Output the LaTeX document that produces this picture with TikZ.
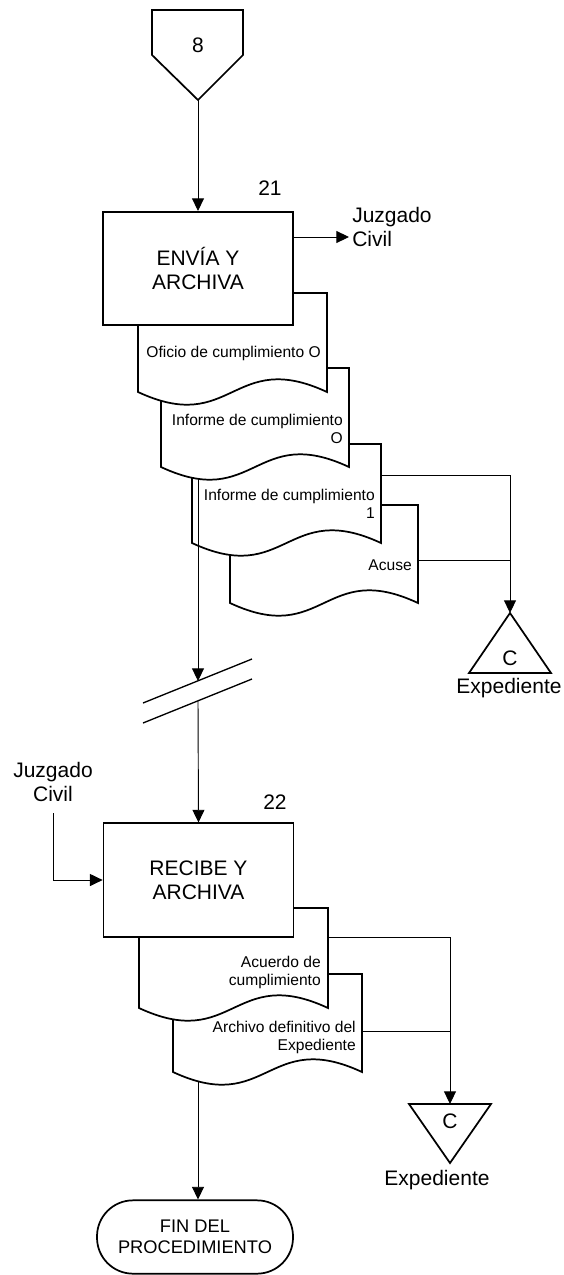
\documentclass[tikz,border=0pt]{standalone}
\usepackage{fontspec}
\setmainfont{Liberation Sans}
\usetikzlibrary{arrows.meta}
\newcommand{\docshape}[4]{%
  \filldraw[shapeline] (#1,#4) -- (#1,#2) -- (#3,#2) -- (#3,#4)
    .. controls ({(#1+#3)/2},{#4-44}) and ({(#1+#3)/2},{#4+44}) .. (#1,#4) -- cycle;}
\begin{document}
\begin{tikzpicture}[x=0.75pt,y=-0.75pt,
  shapeline/.style={line width=1.3pt, fill=white, draw=black},
  conn/.style={line width=0.7pt},
  arr/.style={conn,-{Triangle[length=9.5pt,width=9pt]}},
  big/.style={font=\fontsize{15.75}{18}\selectfont},
  small/.style={font=\fontsize{11.7}{13.5}\selectfont},
  lbl/.style={inner sep=0pt},
  procbox/.style={draw, line width=1.3pt, fill=white, minimum width=142.5pt,
    minimum height=85pt, inner sep=0pt, align=center, big},
  termbox/.style={draw, line width=1.3pt, fill=white, rounded corners=27pt,
    minimum width=147pt, minimum height=55pt, inner sep=0pt, align=center,
    font=\fontsize{13.7}{15.8}\selectfont}
]
\useasboundingbox (0,0) rectangle (564,1275);

% off-page connector 8
\filldraw[shapeline] (152,10) -- (243,10) -- (243,55) -- (198,100) -- (152,55) -- cycle;
\node[big,lbl] (c8) at (198,45) {8};
\coordinate (c8tip) at (198,100);

% documents of step 21 (back to front)
\docshape{230}{505}{418}{603}
\docshape{192}{444}{381}{543}
\docshape{161}{368}{349}{467}
\docshape{138}{293}{327}{392}

\node[procbox] (b21) at (198,268.5) {ENVÍA Y\\ARCHIVA};
\node[big,lbl] (n21) at (270,188) {21};
\node[big,lbl,anchor=west,align=left] (jz1) at (352,227) {Juzgado\\Civil};
\coordinate (jz1a) at (349,237);

\node[small,lbl,anchor=east,align=right] (t1) at (321,353) {Oficio de cumplimiento O};
\node[small,lbl,anchor=east,align=right] (t2) at (343,429) {Informe de cumplimiento\\O};
\node[small,lbl,anchor=east,align=right] (t3) at (375,504) {Informe de cumplimiento\\1};
\node[small,lbl,anchor=east,align=right] (t4) at (412,565) {Acuse};

% triangle C (up)
\filldraw[shapeline] (510,613) -- (551,673) -- (469,673) -- cycle;
\coordinate (tri1) at (510,613);
\node[big,lbl] (c1) at (510,658) {C};
\node[big,lbl] (e1) at (509,688) {Expediente};

\coordinate (d3r) at (381,475);
\coordinate (j1) at (510,475);
\coordinate (d4r) at (418,560);
\coordinate (j2) at (510,560);
\coordinate (d2b) at (198,479);
\coordinate (brk1) at (198,681);
\coordinate (brk2) at (198,701);

\draw[arr] (c8tip) -- (b21.north);
\draw[arr] (b21.north east |- jz1a) -- (jz1a);
\draw[conn] (d3r) -- (j1);
\draw[conn] (d4r) -- (j2);
\draw[arr] (j1) -- (tri1);
\draw[arr] (d2b) -- (brk1);

% break marks
\draw[line width=1pt] (143,703) -- (252,659);
\draw[line width=1pt] (143,723) -- (252,679);

% step 22
\docshape{173}{974}{362}{1072}
\docshape{139}{908}{328}{1008}
\node[procbox] (b22) at (198.5,880) {RECIBE Y\\ARCHIVA};
\node[big,lbl] (n22) at (275,802) {22};
\node[big,lbl,align=center] (jz2) at (53,782) {Juzgado\\Civil};
\coordinate (jz2b) at (53,813);

\node[small,lbl,anchor=east,align=right] (tA) at (321,972) {Acuerdo de\\cumplimiento};
\node[small,lbl,anchor=east,align=right] (tB) at (356,1037) {Archivo definitivo del\\Expediente};

\draw[arr] (brk2) -- (b22.north);
\draw[arr] (jz2b) |- (b22.west);

% triangle C (down)
\filldraw[shapeline] (409,1104) -- (491,1104) -- (450,1163) -- cycle;
\coordinate (tri2) at (450,1104);
\node[big,lbl] (c2) at (450,1121) {C};
\node[big,lbl] (e2) at (437,1180) {Expediente};

\coordinate (dAr) at (328,937);
\coordinate (k1) at (450,937);
\coordinate (dBr) at (362,1031);
\coordinate (k2) at (450,1031);
\draw[conn] (dAr) -- (k1);
\draw[conn] (dBr) -- (k2);
\draw[arr] (k1) -- (tri2);

% terminal
\node[termbox] (fin) at (195,1237) {FIN DEL\\PROCEDIMIENTO};
\coordinate (dBb) at (198,1082);
\draw[arr] (dBb) -- (fin.north -| dBb);
\end{tikzpicture}
\end{document}
